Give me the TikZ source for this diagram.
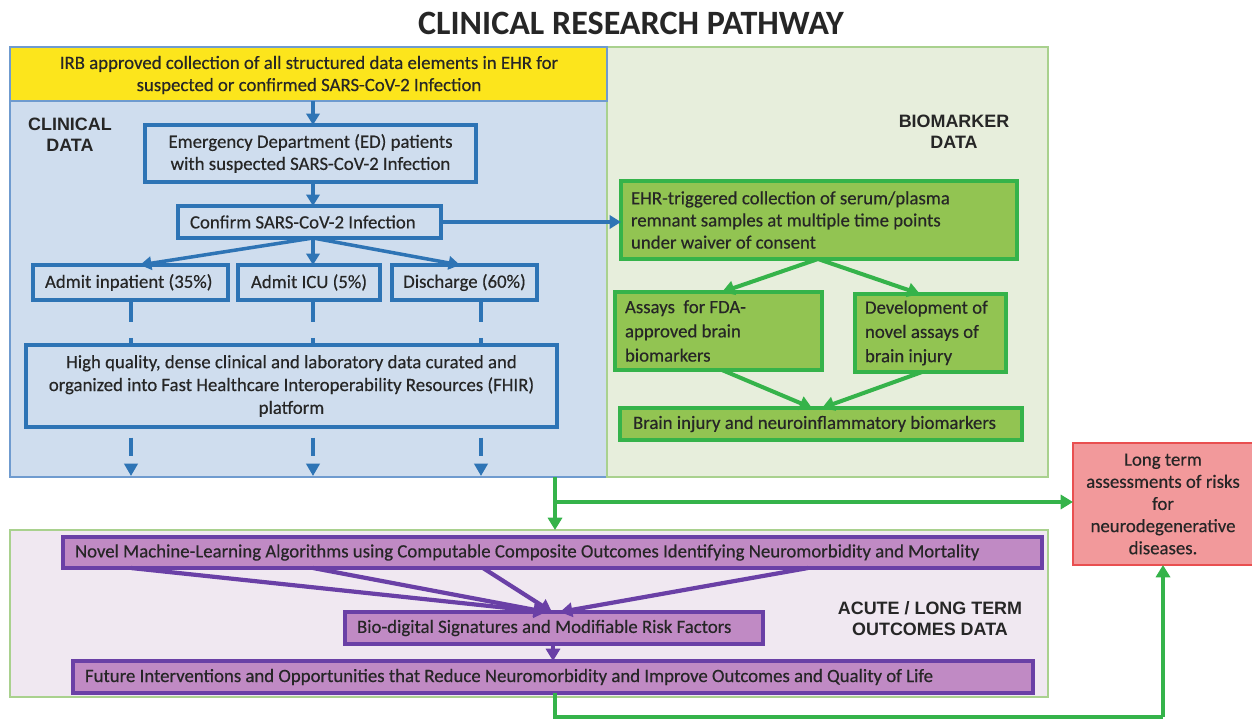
\documentclass[tikz,border=0pt]{standalone}
\usepackage{fontspec}
\setmainfont{Carlito}
\newfontfamily\bodyf{Carlito}[FakeBold=0.4]
\newfontfamily\arialf{Liberation Sans}
\usetikzlibrary{fit,arrows.meta}
\definecolor{txtc}{HTML}{262626}
\definecolor{bline}{HTML}{2E74B5}
\definecolor{bfill}{HTML}{CFDDEE}
\definecolor{bpanel}{HTML}{6F9BCF}
\definecolor{yel}{HTML}{FCE51C}
\definecolor{gpanel}{HTML}{E7EEDC}
\definecolor{gpanelb}{HTML}{A9D18E}
\definecolor{gbox}{HTML}{92C452}
\definecolor{gline}{HTML}{35B34A}
\definecolor{pfill}{HTML}{C08AC4}
\definecolor{pline}{HTML}{6A40A6}
\definecolor{opanel}{HTML}{F0E8F1}
\definecolor{rfill}{HTML}{F2999B}
\definecolor{rline}{HTML}{E94F50}
\begin{document}
\begin{tikzpicture}[x=0.02cm,y=-0.02cm,
  every node/.style={inner sep=0pt, outer sep=0pt, text=txtc},
  txt/.style={font=\bodyf\fontsize{10.7}{12.6}\selectfont, align=center},
  ltxt/.style={font=\bodyf\fontsize{10.7}{12.6}\selectfont, align=left, anchor=west},
  hdr/.style={font=\arialf\bfseries\fontsize{10.2}{12}\selectfont, align=center},
  panelB/.style={draw=bpanel, line width=0.7pt, fill=bfill},
  panelG/.style={draw=gpanelb, line width=0.9pt, fill=gpanel},
  panelO/.style={draw=gpanelb, line width=0.9pt, fill=opanel},
  ybox/.style={draw=bpanel, line width=0.7pt, fill=yel},
  bbox/.style={draw=bline, line width=2.1pt, fill=bfill},
  gbx/.style={draw=gline, line width=2.1pt, fill=gbox},
  pbx/.style={draw=pline, line width=2.1pt, fill=pfill},
  rbx/.style={draw=rline, line width=0.8pt, fill=rfill},
  barrow/.style={draw=bline, line width=2pt, -{Triangle[length=6.5pt,width=7.5pt]}},
  bdash/.style={draw=bline, line width=2.3pt},
  garrow/.style={draw=gline, line width=2.3pt, -{Triangle[length=7pt,width=8pt]}},
  gline/.style={draw=gline, line width=2.3pt},
  parrow/.style={draw=pline, line width=2.4pt, -{Triangle[length=7pt,width=8pt]}},
]
\useasboundingbox (0,0) rectangle (1252,719);
\fill[white] (0,0) rectangle (1252,719);

% title
\node[font=\bfseries\fontsize{19.4}{22}\selectfont] (title) at (631,23) {CLINICAL RESEARCH PATHWAY};

% panels
\node[panelB, fit={(10,101) (607,477)}] (clin) {};
\node[panelG, fit={(607,47) (1048,477)}] (biop) {};
\node[panelO, fit={(10,530) (1048,697)}] (outp) {};
\node[ybox, fit={(10,47) (607,101)}] (irb) {};
\node[txt] (irbt) at (309,75) {IRB approved collection of all structured data elements in EHR for\\suspected or confirmed SARS-CoV-2 Infection};

% headers
\node[hdr] (hclin) at (70,135) {CLINICAL\\DATA};
\node[hdr] (hbio) at (954,132) {BIOMARKER\\DATA};
\node[hdr] (hout) at (930,619) {ACUTE / LONG TERM\\OUTCOMES DATA};

% clinical boxes
\node[bbox, fit={(145,125) (476,182)}] (ed) {};
\node[txt] (edt) at (ed.center) {Emergency Department (ED) patients\\with suspected SARS-CoV-2 Infection};
\node[bbox, fit={(178,206) (441,238)}] (conf) {};
\node[ltxt] (conft) at ([xshift=0.24cm]conf.west) {Confirm SARS-CoV-2 Infection};
\node[bbox, fit={(33,265) (228,300)}] (adm1) {};
\node[ltxt] (adm1t) at ([xshift=0.24cm]adm1.west) {Admit inpatient (35\%)};
\node[bbox, fit={(238,265) (380,300)}] (adm2) {};
\node[txt] (adm2t) at (adm2.center) {Admit ICU (5\%)};
\node[bbox, fit={(392,265) (537,300)}] (adm3) {};
\node[txt] (adm3t) at (adm3.center) {Discharge (60\%)};
\node[bbox, fit={(26,345) (557,427)}] (fhir) {};
\node[txt, font=\bodyf\fontsize{10.7}{13}\selectfont] (fhirt) at (fhir.center) {High quality, dense clinical and laboratory data curated and\\organized into Fast Healthcare Interoperability Resources (FHIR)\\platform};

% biomarker boxes
\node[gbx, fit={(621,181) (1017,259)}] (ehr) {};
\node[ltxt] (ehrt) at ([xshift=0.2cm]ehr.west) {EHR-triggered collection of serum/plasma\\remnant samples at multiple time points\\under waiver of consent};
\node[gbx, fit={(615,292) (822,370)}] (assay) {};
\node[ltxt, font=\bodyf\fontsize{10.7}{13.8}\selectfont] (assayt) at ([xshift=0.2cm]assay.west) {Assays\ \ for FDA-\\approved brain\\biomarkers};
\node[gbx, fit={(855,294) (1006,372)}] (dev) {};
\node[ltxt, font=\bodyf\fontsize{10.7}{13.8}\selectfont] (devt) at ([xshift=0.2cm]dev.west) {Development of\\novel assays of\\brain injury};
\node[gbx, fit={(620,408) (1022,440)}] (brain) {};
\node[ltxt] (braint) at ([xshift=0.26cm]brain.west) {Brain injury and neuroinflammatory biomarkers};

% red box
\node[rbx, fit={(1073,443) (1253,565)}] (red) {};
\node[txt] (redt) at (1163,504) {Long term\\assessments of risks\\for\\neurodegenerative\\diseases.};

% outcome boxes
\node[pbx, fit={(63,537) (1042,568)}] (ml) {};
\node[ltxt] (mlt) at ([xshift=0.24cm]ml.west) {Novel Machine-Learning Algorithms using Computable Composite Outcomes Identifying Neuromorbidity and Mortality};
\node[pbx, fit={(345,612) (763,644)}] (bdg) {};
\node[ltxt] (bdgt) at ([xshift=0.24cm]bdg.west) {Bio-digital Signatures and Modifiable Risk Factors};
\node[pbx, fit={(73,661) (1033,693)}] (fut) {};
\node[ltxt] (futt) at ([xshift=0.24cm]fut.west) {Future Interventions and Opportunities that Reduce Neuromorbidity and Improve Outcomes and Quality of Life};

% x reference coordinates
\coordinate (x1) at (131,0);
\coordinate (x2) at (313,0);
\coordinate (x3) at (481,0);
\coordinate (ax1) at (140,0);
\coordinate (ax3) at (460,0);
\coordinate (gx) at (555,0);
\coordinate (rx) at (1163,0);
\coordinate (e1) at (131,476);
\coordinate (e2) at (313,476);
\coordinate (e3) at (481,476);
\coordinate (gb) at (555,717);
\coordinate (gr) at (1163,717);
\coordinate (gbr) at (555,502);

% blue arrows
\draw[barrow] (irb.south -| x2) -- (ed.north -| x2);
\draw[barrow] (ed.south -| x2) -- (conf.north -| x2);
\draw[barrow] (conf.south -| x2) -- (adm1.north -| ax1);
\draw[barrow] (conf.south -| x2) -- (adm2.north -| x2);
\draw[barrow] (conf.south -| x2) -- (adm3.north -| ax3);
\draw[barrow] (conf.east) -- (conf.east -| ehr.west);

% dashed
\foreach \a/\xx in {adm1/x1,adm2/x2,adm3/x3}{
  \draw[bdash, dash pattern=on 12.5pt off 9pt] (\a.south -| \xx) -- (fhir.north -| \xx);
}
\foreach \xx/\ee in {x1/e1,x2/e2,x3/e3}{
  \draw[bdash, dash pattern=on 0pt off 6pt on 10.5pt off 30pt, -{Triangle[length=7pt,width=7.5pt]}] (fhir.south -| \xx) -- (\ee);
}

% green arrows
\draw[garrow] (ehr.south -| 818,0) -- (assay.north -| 722,0);
\draw[garrow] (ehr.south -| 818,0) -- (dev.north -| 920,0);
\draw[garrow] (assay.south -| 722,0) -- (brain.north -| 812,0);
\draw[garrow] (dev.south -| 922,0) -- (brain.north -| 822,0);

\draw[garrow] (clin.south -| gx) -- (outp.north -| gx);
\draw[garrow] (gbr) -- (gbr -| red.west);
\draw[gline] (fut.south -| gx) -- (gb) -- (gr);
\draw[garrow] (gr) -- (red.south -| rx);

% purple arrows
\draw[parrow] (ml.south -| 131,0) -- (bdg.north -| 546,0);
\draw[parrow] (ml.south -| 313,0) -- (bdg.north -| 546,0);
\draw[parrow] (ml.south -| 483,0) -- (bdg.north -| 552,0);
\draw[parrow] (ml.south -| 808,0) -- (bdg.north -| 560,0);
\draw[parrow] (bdg.south -| 553,0) -- (fut.north -| 553,0);
\end{tikzpicture}
\end{document}
